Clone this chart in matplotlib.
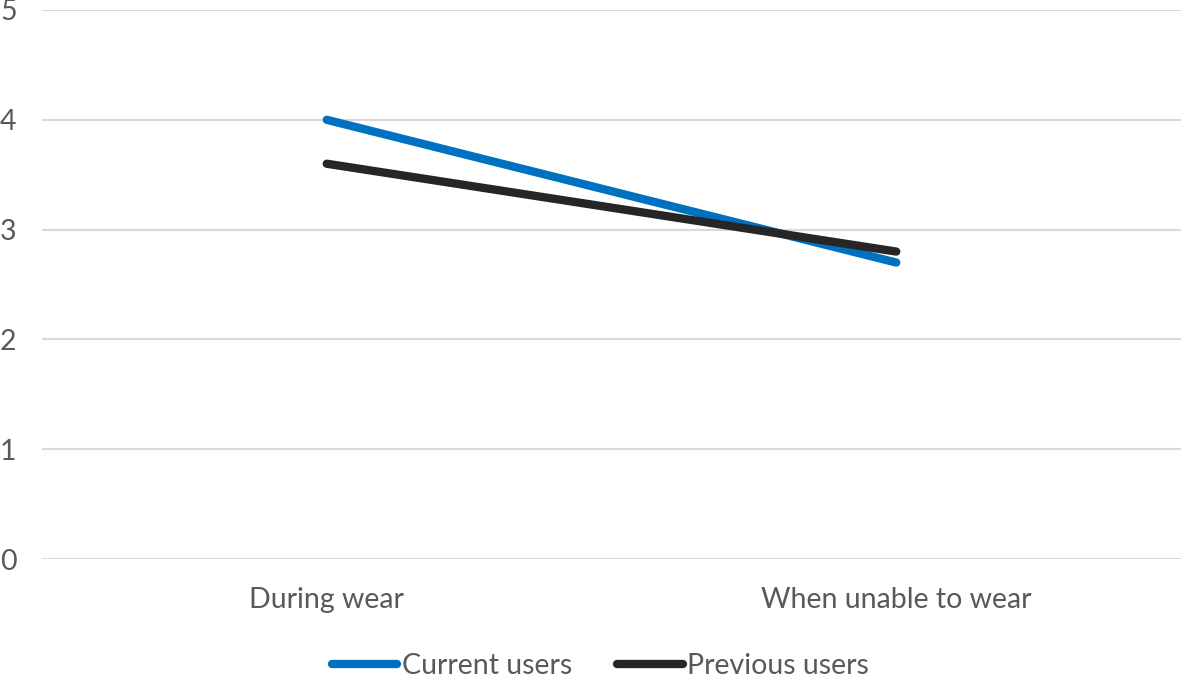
import matplotlib
matplotlib.use("Agg")
import matplotlib.pyplot as plt
import matplotlib.transforms as mt

categories = ["During wear", "When unable to wear"]
current_users = [4.0, 2.7]
previous_users = [3.6, 2.8]
yticks = [0, 1, 2, 3, 4, 5]

plt.rcParams['font.family'] = ['Lato', 'DejaVu Sans']
txt = '#595959'

fig = plt.figure(figsize=(11.81, 6.78), dpi=100)
ax = fig.add_axes([42/1181, (678-559)/678, 1 - 42/1181, (559-10)/678])

x = list(range(len(categories)))
ax.plot(x, current_users, color='#0070C0', lw=6, solid_capstyle='round', label='Current users', zorder=3)
ax.plot(x, previous_users, color='#262626', lw=6, solid_capstyle='round', label='Previous users', zorder=3)

ax.set_xlim(-0.5, 1.5)
ax.set_ylim(0, 5)
ax.set_yticks(yticks)
ax.set_xticks(x)
ax.set_xticklabels(categories)
ax.grid(axis='y', color='#D9D9D9', lw=1.5)
ax.set_axisbelow(True)
for s in ax.spines.values():
    s.set_visible(False)
ax.tick_params(axis='both', length=0, colors=txt, labelsize=20.5)
ax.tick_params(axis='x', pad=20)
for lab in ax.get_yticklabels():
    lab.set_horizontalalignment('left')
    lab.set_transform(mt.blended_transform_factory(fig.transFigure, ax.transData))
    lab.set_x(0.0)

leg = fig.legend(loc='center', bbox_to_anchor=(0.5 + 10/1181, 12/678), ncol=2, frameon=False,
                 fontsize=20.5, handlelength=2.3, handletextpad=0.15, columnspacing=1.6)
for t in leg.get_texts():
    t.set_color(txt)
for h in leg.legend_handles:
    h.set_solid_capstyle('round')

fig.savefig('out.png', dpi=100)
